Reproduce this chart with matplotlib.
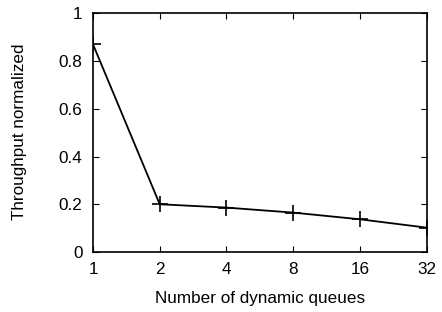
import matplotlib
matplotlib.use("Agg")
import matplotlib.pyplot as plt

categories = ["1", "2", "4", "8", "16", "32"]
throughput = [0.87, 0.20, 0.186, 0.165, 0.137, 0.102]
yticks = [0, 0.2, 0.4, 0.6, 0.8, 1]
ytick_labels = ["0", "0.2", "0.4", "0.6", "0.8", "1"]

plt.rcParams['font.family'] = ['Liberation Sans', 'DejaVu Sans']
fig = plt.figure(figsize=(4.42, 3.12), dpi=100)
L, R, T, B = 93, 426.7, 13.3, 252
ax = fig.add_axes([L/442, 1-B/312, (R-L)/442, (B-T)/312])
x = list(range(len(categories)))
ax.plot(x, throughput, color='black', linewidth=1.3, marker='+', markersize=12, markeredgewidth=1.2)
ax.set_xlim(0, len(categories)-1)
ax.set_ylim(0, 1)
ax.set_xticks(x)
ax.set_xticklabels(categories)
ax.set_yticks(yticks)
ax.set_yticklabels(ytick_labels)
ax.tick_params(direction='in', top=True, right=True, length=4, width=0.8, labelsize=12.3)
ax.tick_params(axis='y', pad=7.5)
ax.tick_params(axis='x', pad=7)
for s in ax.spines.values():
    s.set_linewidth(1.2)
ax.set_xlabel("Number of dynamic queues", fontsize=12.3)
ax.set_ylabel("Throughput normalized", fontsize=12.3)
ax.xaxis.set_label_coords(((L+R)/2-L)/(R-L), (B-298)/(B-T))
ax.yaxis.set_label_coords((20-L)/(R-L), 0.5*( (B-131.5)/(B-T)*2 ))
ax.xaxis.label.set_va('center')
ax.yaxis.label.set_va('center')
fig.savefig("out.png", dpi=100)
